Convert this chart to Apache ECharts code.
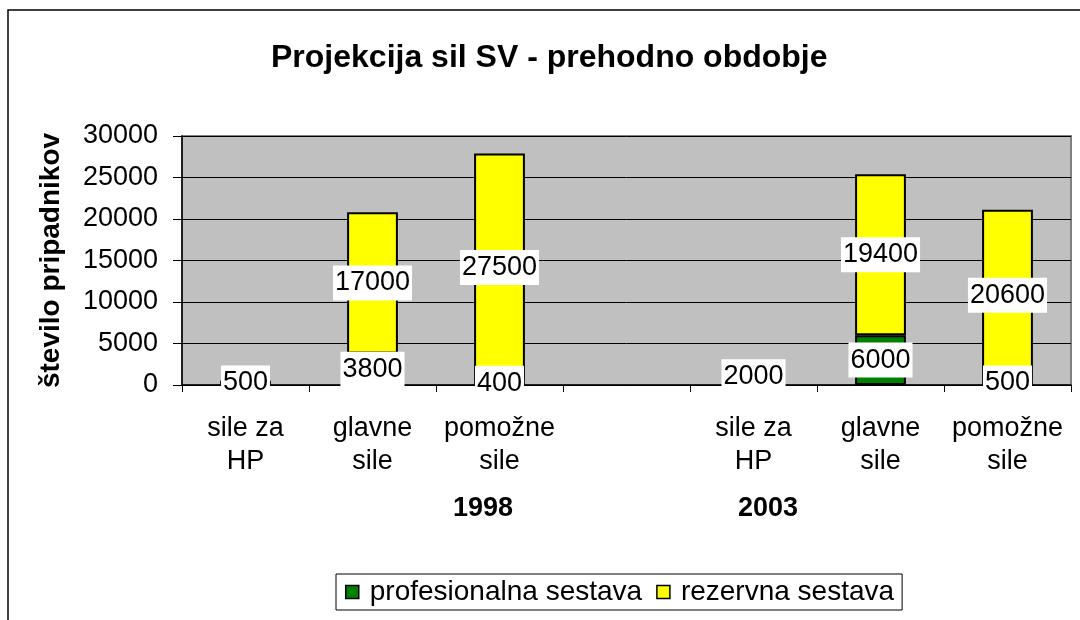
<!DOCTYPE html>
<html>
<head>
<meta charset="utf-8">
<script src="https://cdn.jsdelivr.net/npm/echarts@6/dist/echarts.min.js"></script>
<style>
html,body{margin:0;padding:0;background:#fff;}
#chart{width:1080px;height:620px;}
</style>
</head>
<body>
<div id="chart"></div>
<script>
var categories = ['sile za\nHP', 'glavne\nsile', 'pomožne\nsile', '', 'sile za\nHP', 'glavne\nsile', 'pomožne\nsile'];
var groupLabels = ['1998', '2003'];
var profesionalna = [500, 3800, 400, null, 2000, 6000, 500];
var rezervna = [null, 17000, 27500, null, null, 19400, 20600];
var seriesNames = ['profesionalna sestava', 'rezervna sestava'];
var yTicks = { min: 0, max: 30000, interval: 5000 };

var FONT = '"Liberation Sans", Arial, sans-serif';
var chart = echarts.init(document.getElementById('chart'));

var labelStyle = {
  show: true,
  position: 'inside',
  color: '#000',
  fontFamily: FONT,
  fontSize: 27,
  backgroundColor: '#fff',
  padding: [5, 2, 3, 2],
  formatter: function (p) { return p.value == null ? '' : String(p.value); }
};

chart.setOption({
  animation: false,
  backgroundColor: '#fff',
  title: {
    text: 'Projekcija sil SV - prehodno obdobje',
    left: 266,
    top: 37,
    textStyle: { fontFamily: FONT, fontSize: 32, fontWeight: 'bold', color: '#000' }
  },
  graphic: [
    { type: 'rect', z: -10, shape: { x: 8, y: 10, width: 1200, height: 700 },
      style: { fill: 'none', stroke: '#000', lineWidth: 1.5 } },
    { type: 'text', left: 453, top: 495,
      style: { text: groupLabels[0], font: 'bold 27px ' + FONT, fill: '#000' } },
    { type: 'text', left: 738, top: 495,
      style: { text: groupLabels[1], font: 'bold 27px ' + FONT, fill: '#000' } }
  ],
  legend: {
    data: seriesNames,
    left: 336,
    top: 574,
    orient: 'horizontal',
    icon: 'rect',
    itemWidth: 13,
    itemHeight: 13,
    itemGap: 14,
    padding: [4, 8, 4, 9],
    borderColor: '#000',
    borderWidth: 1,
    textStyle: { fontFamily: FONT, fontSize: 28, color: '#000', padding: [0, 0, 0, 6] },
    itemStyle: { borderColor: '#000', borderWidth: 1.5 }
  },
  grid: {
    left: 182, right: 9, top: 136, bottom: 235,
    show: true, backgroundColor: '#c0c0c0', borderColor: '#808080', borderWidth: 2
  },
  xAxis: {
    type: 'category',
    data: categories,
    boundaryGap: true,
    axisLine: { lineStyle: { color: '#000', width: 1.5 } },
    axisTick: { show: true, interval: 0, length: 7, lineStyle: { color: '#000' } },
    axisLabel: { interval: 0, margin: 27, fontFamily: FONT, fontSize: 27, lineHeight: 33, color: '#000' }
  },
  yAxis: {
    type: 'value',
    min: yTicks.min, max: yTicks.max, interval: yTicks.interval,
    name: 'število pripadnikov',
    nameLocation: 'middle',
    nameGap: 117,
    nameTextStyle: { fontFamily: FONT, fontSize: 28, fontWeight: 'bold', color: '#000' },
    axisLine: { show: true, lineStyle: { color: '#000', width: 1.5 } },
    axisTick: { show: true, length: 9, lineStyle: { color: '#000' } },
    axisLabel: { margin: 24, fontFamily: FONT, fontSize: 27, color: '#000',
      formatter: function (v) { return String(v); } },
    splitLine: { show: true, lineStyle: { color: '#000', width: 1 } }
  },
  series: [
    {
      name: seriesNames[0], type: 'bar', stack: 'total', data: profesionalna,
      barWidth: '40%',
      itemStyle: { color: '#008000', borderColor: '#000', borderWidth: 2 },
      label: labelStyle
    },
    {
      name: seriesNames[1], type: 'bar', stack: 'total', data: rezervna,
      barWidth: '40%',
      itemStyle: { color: '#ffff00', borderColor: '#000', borderWidth: 2 },
      label: labelStyle
    }
  ]
});
</script>
</body>
</html>
